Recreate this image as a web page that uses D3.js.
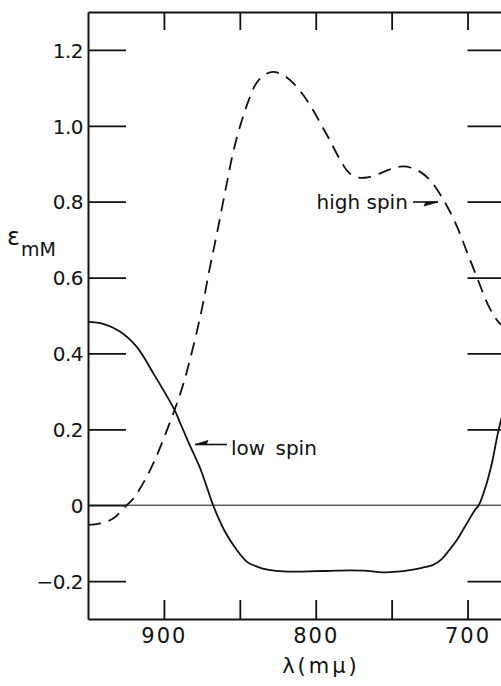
<!DOCTYPE html>
<html>
<head>
<meta charset="utf-8">
<script src="https://cdn.jsdelivr.net/npm/d3@7"></script>
<style>
  html, body { margin: 0; padding: 0; background: #fff; }
  svg { display: block; }
  text { font-family: "DejaVu Sans", sans-serif; fill: #111; }
</style>
</head>
<body>
<svg id="chart" width="501" height="686"></svg>
<script>
// ---- data ----
const lowSpinWavelength = [950, 940, 929, 918, 907, 893, 889, 883.5, 876, 872, 867.6, 860, 852, 845, 840, 835, 826, 815, 800, 790, 778, 766, 756, 746, 738, 730, 723, 717, 712, 707, 703, 699, 695, 692.6, 688, 684, 680, 675];
const lowSpinEpsilon   = [0.483, 0.478, 0.458, 0.418, 0.348, 0.251, 0.214, 0.163, 0.096, 0.051, 0.0, -0.068, -0.118, -0.150, -0.160, -0.167, -0.173, -0.175, -0.174, -0.173, -0.172, -0.173, -0.177, -0.175, -0.171, -0.165, -0.158, -0.142, -0.118, -0.092, -0.065, -0.038, -0.012, 0.0, 0.05, 0.11, 0.19, 0.27];

const highSpinWavelength = [950, 942, 933, 925, 920, 912, 905, 893, 887, 876, 870, 865, 858, 854, 849, 844, 839, 833, 828, 822, 815, 808, 802, 796, 791, 784, 778, 771, 766, 760, 751, 743, 734, 725, 716, 707, 701, 694, 686, 679, 675];
const highSpinEpsilon   = [-0.052, -0.048, -0.034, -0.002, 0.018, 0.07, 0.128, 0.251, 0.322, 0.498, 0.621, 0.718, 0.86, 0.937, 1.01, 1.069, 1.113, 1.136, 1.142, 1.135, 1.113, 1.08, 1.043, 1.0, 0.964, 0.911, 0.876, 0.863, 0.864, 0.871, 0.885, 0.893, 0.885, 0.858, 0.806, 0.735, 0.674, 0.603, 0.524, 0.48, 0.47];

const yTickValues = [-0.2, 0, 0.2, 0.4, 0.6, 0.8, 1.0, 1.2];
const yTickLabels = ["−0.2", "0", "0.2", "0.4", "0.6", "0.8", "1.0", "1.2"];
const xTickValues = [900, 850, 800, 750, 700];
const xTickLabels = ["900", "", "800", "", "700"];

const xDomain = [950, 675];
const yDomain = [-0.3, 1.3];

// ---- layout ----
const svg = d3.select("#chart");
const pLeft = 88, pRight = 505.5, pTop = 12, pBottom = 619;

const x = d3.scaleLinear().domain(xDomain).range([pLeft, pRight]);
const y = d3.scaleLinear().domain(yDomain).range([pBottom, pTop]);

const ink = "#111";

// zero line
svg.append("line")
  .attr("x1", pLeft).attr("x2", pRight)
  .attr("y1", y(0)).attr("y2", y(0))
  .attr("stroke", ink).attr("stroke-width", 1);

// axes
function styleAxis(g) {
  g.selectAll("path.domain").attr("stroke", ink).attr("stroke-width", 2);
  g.selectAll(".tick line").attr("stroke", ink).attr("stroke-width", 1.8);
}

const yLabelMap = new Map(yTickValues.map((v, i) => [v, yTickLabels[i]]));
const xLabelMap = new Map(xTickValues.map((v, i) => [v, xTickLabels[i]]));

const gLeft = svg.append("g").attr("transform", `translate(${pLeft},0)`)
  .call(d3.axisLeft(y).tickValues(yTickValues).tickSize(-38).tickSizeOuter(0)
    .tickPadding(5).tickFormat(d => yLabelMap.get(d)));
styleAxis(gLeft);
gLeft.selectAll(".tick text")
  .attr("font-size", 20).attr("font-family", "DejaVu Sans, sans-serif")
  .attr("fill", ink).attr("dy", "0.36em").attr("letter-spacing", -0.5);

const gRight = svg.append("g").attr("transform", `translate(${pRight},0)`)
  .call(d3.axisRight(y).tickValues(yTickValues.filter(v => v !== 0)).tickSize(-38).tickSizeOuter(0).tickFormat(""));
styleAxis(gRight);

const gBottom = svg.append("g").attr("transform", `translate(0,${pBottom})`)
  .call(d3.axisBottom(x).tickValues(xTickValues).tickSize(-19).tickSizeOuter(0)
    .tickPadding(9).tickFormat(d => xLabelMap.get(d)));
styleAxis(gBottom);
gBottom.selectAll(".tick text")
  .attr("font-size", 21).attr("font-family", "DejaVu Sans, sans-serif")
  .attr("fill", ink).attr("letter-spacing", 2).attr("y", 24).attr("dy", 0);

const gTop = svg.append("g").attr("transform", `translate(0,${pTop})`)
  .call(d3.axisTop(x).tickValues(xTickValues).tickSize(-18).tickSizeOuter(0).tickFormat(""));
styleAxis(gTop);

// curves
const line = d3.line()
  .x(d => x(d[0]))
  .y(d => y(d[1]))
  .curve(d3.curveCatmullRom.alpha(0.5));

const lowData = lowSpinWavelength.map((w, i) => [w, lowSpinEpsilon[i]]);
const highData = highSpinWavelength.map((w, i) => [w, highSpinEpsilon[i]]);

svg.append("path").datum(lowData)
  .attr("d", line).attr("fill", "none")
  .attr("stroke", ink).attr("stroke-width", 1.8);

svg.append("path").datum(highData)
  .attr("d", line).attr("fill", "none")
  .attr("stroke", ink).attr("stroke-width", 1.8)
  .attr("stroke-dasharray", "13,8");

// annotations
svg.append("text").attr("x", 231).attr("y", 455)
  .attr("font-size", 20).attr("word-spacing", 4).text("low spin");
svg.append("line").attr("x1", 227).attr("x2", 195).attr("y1", 444.5).attr("y2", 444.5)
  .attr("stroke", ink).attr("stroke-width", 1.6);
svg.append("path").attr("d", "M195,444.5 L208,440.5 L206,444.5 Z").attr("fill", ink).attr("stroke", ink).attr("stroke-width", 0.8);

svg.append("text").attr("x", 316.5).attr("y", 208.5)
  .attr("font-size", 20).text("high spin");
svg.append("line").attr("x1", 413).attr("x2", 438).attr("y1", 202).attr("y2", 202)
  .attr("stroke", ink).attr("stroke-width", 1.6);
svg.append("path").attr("d", "M438,202 L424,206 L426,202 Z").attr("fill", ink).attr("stroke", ink).attr("stroke-width", 0.8);

// axis titles
const yt = svg.append("text").attr("x", 7).attr("y", 245).attr("font-size", 24);
yt.append("tspan").text("ε");
yt.append("tspan").attr("font-size", 19).attr("dy", 11).attr("dx", 1).text("mM");

svg.append("text").attr("x", 321).attr("y", 673).attr("text-anchor", "middle")
  .attr("font-size", 21).attr("letter-spacing", 3).text("λ(mμ)");
</script>
</body>
</html>
